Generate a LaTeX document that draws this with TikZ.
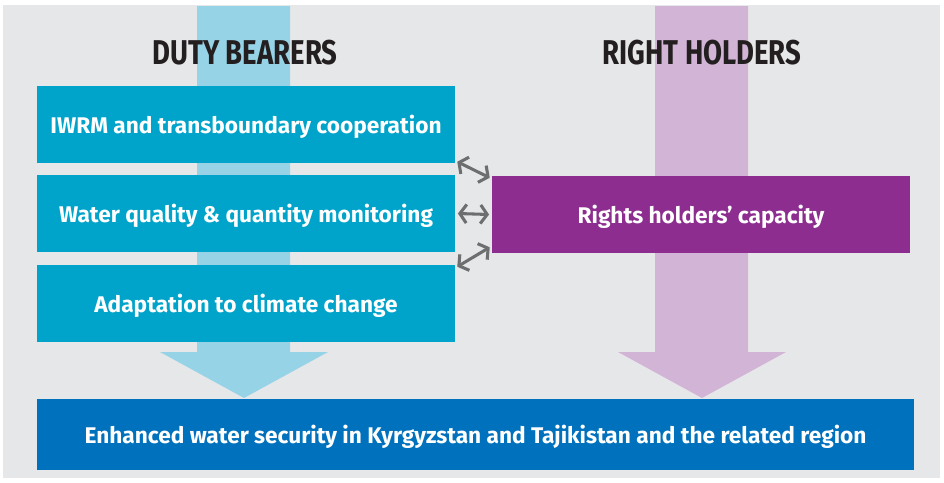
\documentclass[tikz,border=0pt]{standalone}
\usepackage{fontspec}
\setmainfont{Fira Sans}
\newfontfamily\titlefont[FakeStretch=0.80]{Fira Sans}
\usetikzlibrary{arrows.meta}

\definecolor{bgGray}{HTML}{E6E7E9}
\definecolor{dutyBlue}{HTML}{00A3C9}
\definecolor{dutyLight}{HTML}{97D3E6}
\definecolor{rightLight}{HTML}{D2B4D6}
\definecolor{rightPurple}{HTML}{8C2D8F}
\definecolor{goalBlue}{HTML}{0071BC}
\definecolor{titleInk}{HTML}{231F20}
\definecolor{linkGray}{HTML}{6D6E70}

\tikzset{
  dutybox/.style={fill=dutyBlue, text=white, minimum width=313.5pt, minimum height=57.75pt, inner sep=0pt, text height=14pt, text depth=0pt, font=\fontsize{17}{20}\selectfont\bfseries},
  rightbox/.style={dutybox, fill=rightPurple},
  goalbox/.style={fill=goalBlue, text=white, minimum width=657.75pt, minimum height=53.25pt, inner sep=0pt, text height=13pt, text depth=0pt, font=\fontsize{17}{20}\selectfont\bfseries},
  headtitle/.style={text=titleInk, inner sep=0pt, font=\titlefont\fontsize{25.8}{28}\selectfont\bfseries},
  linkarrow/.style={draw=linkGray, line width=2.3pt, {Straight Barb[length=5pt,width=14pt]}-{Straight Barb[length=5pt,width=14pt]}}
}

\begin{document}
\begin{tikzpicture}[x=0.75pt,y=0.75pt,yscale=-1,xscale=1]
\useasboundingbox (0,0) rectangle (944,482);

%Shape: Rectangle [background]
\fill[white] (0,0) rectangle (944,482);
\fill[bgGray] (3,5) rectangle (940,478);

%Shape: Arrow [duty bearers]
\fill[dutyLight] (197,6) -- (290,6) -- (290,352) -- (328,352) -- (244,398) -- (160,352) -- (197,352) -- cycle;
%Shape: Arrow [right holders]
\fill[rightLight] (655,6) -- (748,6) -- (748,352) -- (786,352) -- (702,398) -- (618,352) -- (655,352) -- cycle;

% Text Node
\node[headtitle] (dutytitle) at (245,53) {DUTY BEARERS};
% Text Node
\node[headtitle] (righttitle) at (702,53) {RIGHT HOLDERS};

%Shape: Rectangle
\node[dutybox] (iwrm) at (246,124) {IWRM and transboundary cooperation};
%Shape: Rectangle
\node[dutybox] (monitor) at (246,213.5) {Water quality \& quantity monitoring};
%Shape: Rectangle
\node[dutybox] (adapt) at (246,303.5) {Adaptation to climate change};
%Shape: Rectangle
\node[rightbox] (capacity) at (701,214.5) {Rights holders’ capacity};
%Shape: Rectangle
\node[goalbox] (security) at (475.5,434.5) {Enhanced water security in Kyrgyzstan and Tajikistan and the related region};

%Straight Lines [links]
\draw[linkarrow] ([shift={(2,-1)}]iwrm.south east) -- ([shift={(-2,2)}]capacity.north west);
\draw[linkarrow] ([xshift=2]monitor.east) -- ([xshift=-2]capacity.west);
\draw[linkarrow] ([shift={(2,2)}]adapt.north east) -- ([shift={(-2,-6)}]capacity.south west);

\end{tikzpicture}
\end{document}
